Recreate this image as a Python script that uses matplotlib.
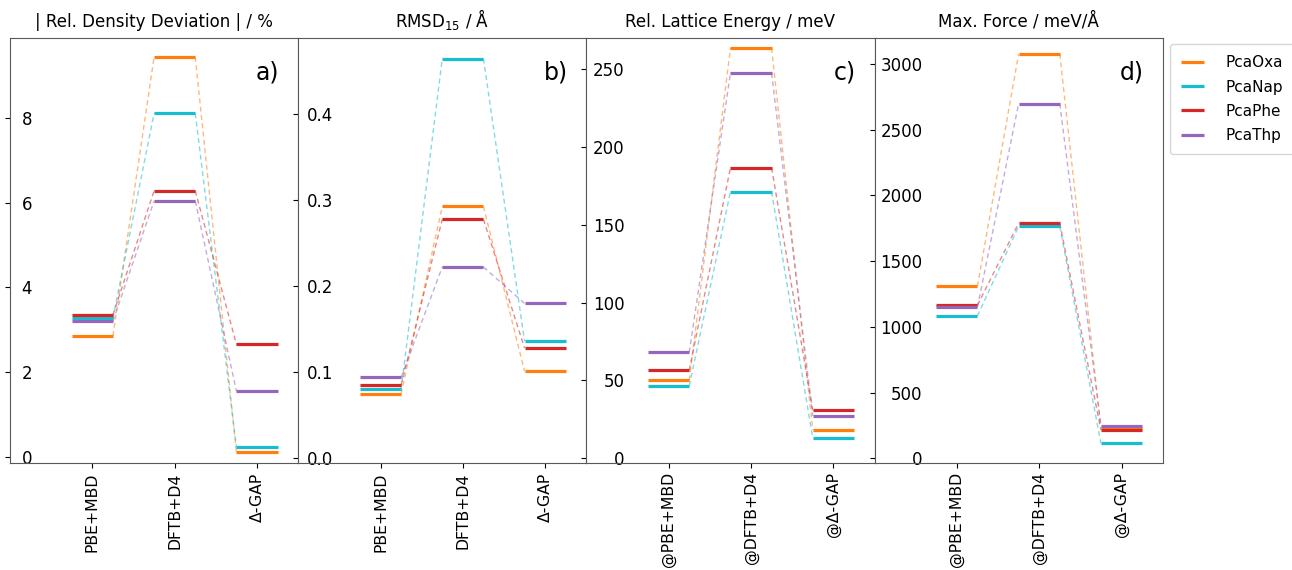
import matplotlib
matplotlib.use("Agg")
import matplotlib.pyplot as plt

series = ["PcaOxa", "PcaNap", "PcaPhe", "PcaThp"]
colors = ["tab:orange", "tab:cyan", "tab:red", "tab:purple"]

methods_ab = ["PBE+MBD", "DFTB+D4", "Δ-GAP"]
methods_cd = ["@PBE+MBD", "@DFTB+D4", "@Δ-GAP"]

titles = ["| Rel. Density Deviation | / %", r"RMSD$_{15}$ / Å",
          "Rel. Lattice Energy / meV", "Max. Force / meV/Å"]
panel_labels = ["a)", "b)", "c)", "d)"]

# values per series: [PBE+MBD, DFTB+D4, Delta-GAP]
density = {
    "PcaOxa": [2.85, 9.44, 0.10],
    "PcaNap": [3.27, 8.11, 0.22],
    "PcaPhe": [3.35, 6.28, 2.65],
    "PcaThp": [3.20, 6.04, 1.54],
}
rmsd = {
    "PcaOxa": [0.075, 0.293, 0.101],
    "PcaNap": [0.080, 0.465, 0.136],
    "PcaPhe": [0.085, 0.278, 0.128],
    "PcaThp": [0.094, 0.2225, 0.180],
}
lattice = {
    "PcaOxa": [50.1, 263.5, 18.2],
    "PcaNap": [46.7, 171.2, 12.9],
    "PcaPhe": [56.6, 186.6, 30.8],
    "PcaThp": [68.1, 247.4, 27.2],
}
force = {
    "PcaOxa": [1310, 3074, 228],
    "PcaNap": [1083, 1763, 114],
    "PcaPhe": [1164, 1788, 215],
    "PcaThp": [1149, 2696, 248],
}

datasets = [density, rmsd, lattice, force]
xlabels = [methods_ab, methods_ab, methods_cd, methods_cd]
ylims = [(-0.16, 9.89), (-0.006, 0.489), (-3.2, 270), (-38, 3196)]
ypads = [-19.3, -28.7, -30.9, -38.1]

W, H = 1292, 570
fig = plt.figure(figsize=(W / 100, H / 100), dpi=100)

left_px, right_px = 10, 1162.7
top_px, bot_px = 38, 463.3
pw = (right_px - left_px) / 4

axes = []
for i in range(4):
    ax = fig.add_axes([(left_px + i * pw) / W, 1 - bot_px / H,
                       pw / W, (bot_px - top_px) / H])
    axes.append(ax)
    data = datasets[i]
    hw = 0.25
    for s, c in zip(series, colors):
        vals = data[s]
        for k, v in enumerate(vals):
            ax.plot([k - hw, k + hw], [v, v], color=c, lw=2.3,
                    solid_capstyle="butt", zorder=3,
                    label=s if (i == 0 and k == 0) else None)
        for k in range(len(vals) - 1):
            ax.plot([k + hw, k + 1 - hw], [vals[k], vals[k + 1]], color=c,
                    lw=1.0, ls=(0, (3.5, 2.5)), alpha=0.55, zorder=2)
    ax.set_xlim(-1.0, 2.5)
    ax.set_ylim(*ylims[i])
    ax.set_xticks(range(3))
    ax.set_xticklabels(xlabels[i], rotation=90, fontsize=11.3)
    ax.tick_params(axis="x", pad=3)
    ax.tick_params(axis="y", labelsize=12, pad=ypads[i])
    ax.set_title(titles[i], fontsize=12, pad=8)
    ax.text(0.935, 0.918, panel_labels[i], transform=ax.transAxes,
            fontsize=17, ha="right", va="center")
    for sp in ax.spines.values():
        sp.set_color("0.35")

handles, labels = axes[0].get_legend_handles_labels()
fig.legend(handles, labels, loc="upper left",
           bbox_to_anchor=(1170 / W, 1 - 44 / H), fontsize=11,
           handlelength=1.5, handletextpad=1.4, borderpad=0.75,
           labelspacing=0.6, frameon=True, borderaxespad=0.0)

fig.savefig("out.png", dpi=100)
